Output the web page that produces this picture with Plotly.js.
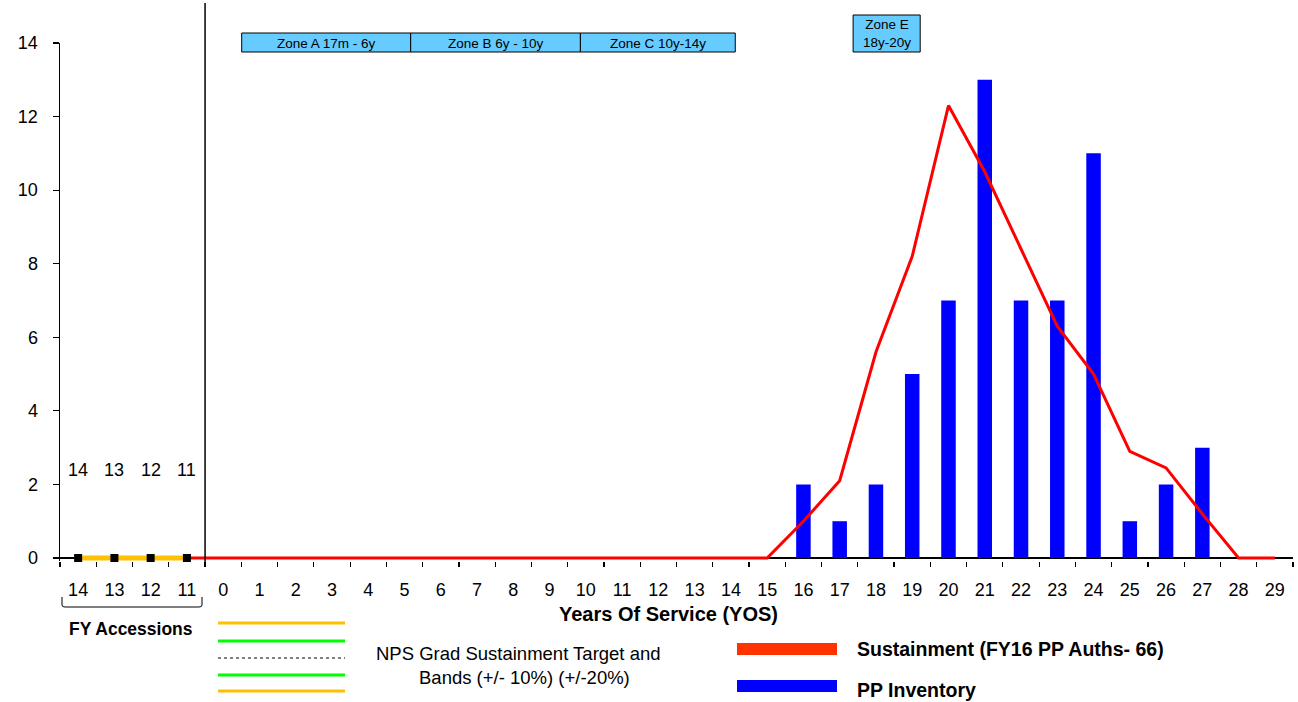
<!DOCTYPE html>
<html>
<head>
<meta charset="utf-8">
<script src="https://cdn.plot.ly/plotly-3.0.1.min.js"></script>
<style>html,body{margin:0;padding:0;background:#fff;}#chart{width:1298px;height:702px;}</style>
</head>
<body>
<div id="chart"></div>
<script>
// ---- data ----
const categories = ["FY14","FY13","FY12","FY11","0","1","2","3","4","5","6","7","8","9","10","11","12","13","14","15","16","17","18","19","20","21","22","23","24","25","26","27","28","29"];
const tickLabels = ["14","13","12","11","0","1","2","3","4","5","6","7","8","9","10","11","12","13","14","15","16","17","18","19","20","21","22","23","24","25","26","27","28","29"];
const fyCats = ["FY14","FY13","FY12","FY11"];
const fyValues = [0,0,0,0];
const fyLabels = ["14","13","12","11"];
const sustainCats = ["FY11","0","1","2","3","4","5","6","7","8","9","10","11","12","13","14","15","16","17","18","19","20","21","22","23","24","25","26","27","28","29"];
const sustainValues = [0,0,0,0,0,0,0,0,0,0,0,0,0,0,0,0,0,1.0,2.1,5.6,8.2,12.3,10.5,8.4,6.3,5.0,2.9,2.45,1.2,0,0];
const invCats = ["16","17","18","19","20","21","22","23","24","25","26","27"];
const invValues = [2,1,2,5,7,13,7,7,11,1,2,3];
const zones = [
  {label:"Zone A 17m - 6y", x0:4.51, x1:9.17},
  {label:"Zone B 6y - 10y", x0:9.17, x1:13.85},
  {label:"Zone C 10y-14y", x0:13.85, x1:18.12}
];
const zoneE = {label:"Zone E<br>18y-20y", x0:21.37, x1:23.22};

// ---- pixel helpers for decorations ----
const L=60, R=1293, T=43, B=561;
const px = x => (x-L)/(R-L);
const py = y => (B-y)/(B-T);
const FONT = "Liberation Sans, Arial, sans-serif";

const traces = [
  {type:"bar", x:invCats, y:invValues, width:0.4, marker:{color:"#0000FF"}, hoverinfo:"x+y"},
  {type:"scatter", mode:"lines", x:sustainCats, y:sustainValues, line:{color:"#FF0000", width:3}, cliponaxis:false},
  {type:"scatter", mode:"lines+markers", x:fyCats, y:fyValues, line:{color:"#FFC000", width:5},
   marker:{symbol:"square", color:"#000000", size:8}, cliponaxis:false}
];

const shapes = [];
const annotations = [];
function note(x, y, text, size, opts){
  return Object.assign({xref:"paper", yref:"paper", x:x, y:y, text:text, showarrow:false,
    xanchor:"center", yanchor:"middle", font:{family:FONT, size:size, color:"#000"}}, opts||{});
}
// vertical separator
shapes.push({type:"line", xref:"x", yref:"paper", x0:3.5, x1:3.5, y0:py(566), y1:py(3), line:{color:"#000", width:1.5}});
// zones
zones.forEach(z=>{
  shapes.push({type:"rect", xref:"x", yref:"paper", x0:z.x0, x1:z.x1, y0:py(52), y1:py(33), fillcolor:"#66CCFF", line:{color:"#000", width:1}});
  annotations.push(note((z.x0+z.x1)/2, py(43), z.label, 13.5, {xref:"x"}));
});
shapes.push({type:"rect", xref:"x", yref:"paper", x0:zoneE.x0, x1:zoneE.x1, y0:py(52), y1:py(15), fillcolor:"#66CCFF", line:{color:"#000", width:1}});
annotations.push(note((zoneE.x0+zoneE.x1)/2, py(34), zoneE.label, 13.5, {xref:"x"}));
// FY labels above
fyCats.forEach((c,i)=>{
  annotations.push(note(c, 2.4, fyLabels[i], 18, {xref:"x", yref:"y"}));
});
// FY bracket
shapes.push({type:"path", xref:"paper", yref:"paper",
  path:`M ${px(62)},${py(597)} L ${px(62)},${py(605)} Q ${px(62)},${py(607)} ${px(65)},${py(607)} L ${px(199)},${py(607)} Q ${px(202)},${py(607)} ${px(202)},${py(605)} L ${px(202)},${py(597)}`,
  line:{color:"#000", width:1}});
annotations.push(note(px(131), py(629), "<b>FY Accessions</b>", 17.5));
// x title
annotations.push(note(px(668), py(614), "<b>Years Of Service (YOS)</b>", 20));
// legend lines
const legLines = [[623,"#FFC000","solid",3],[641,"#00FF00","solid",3],[658,"#000000","dot",1.2],[675,"#00FF00","solid",3],[691,"#FFC000","solid",3]];
legLines.forEach(l=>{
  shapes.push({type:"line", xref:"paper", yref:"paper", x0:px(218), x1:px(345), y0:py(l[0]), y1:py(l[0]), line:{color:l[1], width:l[3], dash:l[2]}});
});
annotations.push(note(px(518), py(653), "NPS Grad Sustainment Target and", 18.5));
annotations.push(note(px(524), py(677), "Bands (+/- 10%) (+/-20%)", 18.5));
shapes.push({type:"rect", xref:"paper", yref:"paper", x0:px(737), x1:px(837), y0:py(655), y1:py(643), fillcolor:"#FF3300", line:{width:0}});
shapes.push({type:"rect", xref:"paper", yref:"paper", x0:px(737), x1:px(837), y0:py(692), y1:py(680), fillcolor:"#0000FF", line:{width:0}});
annotations.push(note(px(855), py(649), "<b>Sustainment (FY16 PP Auths- 66)</b>", 19.5, {xanchor:"left"}));
annotations.push(note(px(855), py(690), "<b>PP Inventory</b>", 19.5, {xanchor:"left"}));

const layout = {
  width:1298, height:702,
  margin:{l:L, r:1298-R, t:T, b:702-B},
  paper_bgcolor:"#fff", plot_bgcolor:"#fff",
  showlegend:false,
  font:{family:FONT, color:"#000"},
  xaxis:{type:"category", categoryorder:"array", categoryarray:categories,
    tickmode:"array", tickvals:categories, ticktext:tickLabels,
    tickson:"boundaries", ticks:"outside", ticklen:5, tickcolor:"#000", tickwidth:1.2,
    showline:false, showgrid:false, zeroline:false,
    range:[-0.5, 33.5], tickfont:{family:FONT, size:18, color:"#000"}, ticklabelstandoff:16},
  yaxis:{range:[-3/36.79,14], tickmode:"array", tickvals:[0,2,4,6,8,10,12,14], ticks:"outside", ticklen:6, tickcolor:"#000", tickwidth:1.2,
    showline:true, linecolor:"#000", linewidth:1.5, showgrid:false,
    zeroline:true, zerolinecolor:"#000", zerolinewidth:1.5,
    tickfont:{family:FONT, size:18, color:"#000"}, ticklabelstandoff:11},
  shapes:shapes, annotations:annotations
};
Plotly.newPlot("chart", traces, layout, {displayModeBar:false, staticPlot:true});
</script>
</body>
</html>
